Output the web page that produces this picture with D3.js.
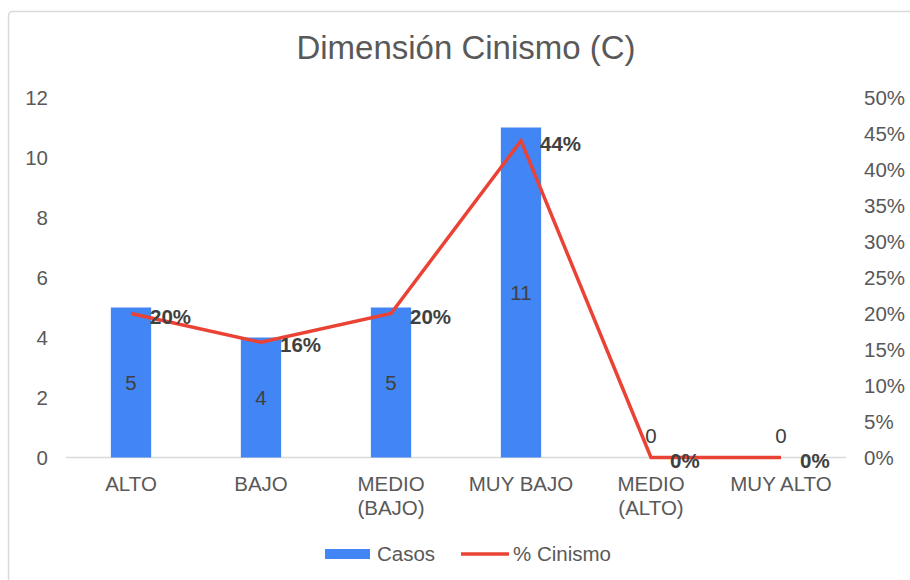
<!DOCTYPE html>
<html>
<head>
<meta charset="utf-8">
<script src="https://cdn.jsdelivr.net/npm/d3@7"></script>
<style>
  body { margin: 0; background: #fff; }
  svg { display: block; font-family: "Liberation Sans", Arial, sans-serif; }
</style>
</head>
<body>
<svg id="chart" width="910" height="580"></svg>
<script>
// chart data
const categories = [["ALTO"], ["BAJO"], ["MEDIO", "(BAJO)"], ["MUY BAJO"], ["MEDIO", "(ALTO)"], ["MUY ALTO"]];
const casos      = [5, 4, 5, 11, 0, 0];
const pctCinismo = [0.20, 0.16, 0.20, 0.44, 0, 0];
const leftTicks  = [0, 2, 4, 6, 8, 10, 12];
const rightTicks = [0, 0.05, 0.10, 0.15, 0.20, 0.25, 0.30, 0.35, 0.40, 0.45, 0.50];

const svg = d3.select("#chart");
const textColor = "#595959";
const labelColor = "#404040";
const blue = "#4285F4";
const red  = "#EA4335";
const fs = 20.5;

// outer frame
svg.append("rect")
  .attr("x", 8.5).attr("y", 11.5)
  .attr("width", 920).attr("height", 600)
  .attr("rx", 4)
  .attr("fill", "none")
  .attr("stroke", "#d9d9d9")
  .attr("stroke-width", 1.5);

// title
svg.append("text")
  .attr("x", 466).attr("y", 59)
  .attr("text-anchor", "middle")
  .attr("font-size", 33)
  .attr("fill", textColor)
  .text("Dimensión Cinismo (C)");

const x = d3.scaleBand()
  .domain(d3.range(categories.length))
  .range([66, 846])
  .paddingInner(0.69)
  .paddingOuter(0.345);

const yLeft = d3.scaleLinear().domain([0, 12]).range([457.5, 97.5]);
const yRight = d3.scaleLinear().domain([0, 0.5]).range([457.5, 97.5]);
const cx = i => x(i) + x.bandwidth() / 2;

// left axis
const leftAxis = svg.append("g")
  .attr("transform", "translate(48,0)")
  .call(d3.axisLeft(yLeft).tickValues(leftTicks).tickSize(0).tickPadding(0));
leftAxis.select(".domain").remove();
leftAxis.selectAll("text").attr("font-size", fs).attr("fill", textColor).attr("font-family", null);

// right axis
const rightAxis = svg.append("g")
  .attr("transform", "translate(864,0)")
  .call(d3.axisRight(yRight).tickValues(rightTicks).tickSize(0).tickPadding(0)
    .tickFormat(d3.format(".0%")));
rightAxis.select(".domain").remove();
rightAxis.selectAll("text").attr("font-size", fs).attr("fill", textColor).attr("font-family", null);

// baseline
svg.append("line")
  .attr("x1", 66).attr("x2", 846)
  .attr("y1", yLeft(0)).attr("y2", yLeft(0))
  .attr("stroke", "#d9d9d9")
  .attr("stroke-width", 1.5);

// bars
svg.append("g").selectAll("rect")
  .data(casos)
  .join("rect")
  .attr("x", (d, i) => x(i))
  .attr("width", x.bandwidth())
  .attr("y", d => yLeft(d))
  .attr("height", d => yLeft(0) - yLeft(d))
  .attr("fill", blue);

// bar labels
svg.append("g").selectAll("text")
  .data(casos)
  .join("text")
  .attr("x", (d, i) => cx(i))
  .attr("y", d => d > 0 ? (yLeft(d) + yLeft(0)) / 2 : yLeft(0) - 22)
  .attr("dy", "0.35em")
  .attr("text-anchor", "middle")
  .attr("font-size", fs)
  .attr("fill", labelColor)
  .text(d => d);

// x labels
const xl = svg.append("g").selectAll("text")
  .data(categories)
  .join("text")
  .attr("x", (d, i) => cx(i))
  .attr("y", 491)
  .attr("text-anchor", "middle")
  .attr("font-size", fs)
  .attr("fill", textColor);
xl.selectAll("tspan")
  .data(d => d)
  .join("tspan")
  .attr("x", function () { return this.parentNode.getAttribute("x"); })
  .attr("dy", (d, i) => i === 0 ? 0 : 24)
  .text(d => d);

// line
const line = d3.line()
  .x((d, i) => cx(i))
  .y(d => yRight(d));
svg.append("path")
  .datum(pctCinismo)
  .attr("d", line)
  .attr("fill", "none")
  .attr("stroke", red)
  .attr("stroke-width", 3.5)
  .attr("stroke-linejoin", "miter");

// line labels
svg.append("g").selectAll("text")
  .data(pctCinismo)
  .join("text")
  .attr("x", (d, i) => cx(i) + 19)
  .attr("y", d => yRight(d) + 3)
  .attr("dy", "0.35em")
  .attr("font-size", fs)
  .attr("font-weight", "bold")
  .attr("fill", labelColor)
  .text(d => d3.format(".0%")(d));

// legend
const legend = svg.append("g");
legend.append("rect")
  .attr("x", 325).attr("y", 549)
  .attr("width", 45).attr("height", 10)
  .attr("fill", blue);
legend.append("text")
  .attr("x", 377).attr("y", 554).attr("dy", "0.35em")
  .attr("font-size", fs).attr("fill", textColor)
  .text("Casos");
legend.append("line")
  .attr("x1", 461).attr("x2", 509)
  .attr("y1", 554).attr("y2", 554)
  .attr("stroke", red).attr("stroke-width", 3.5);
legend.append("text")
  .attr("x", 513).attr("y", 554).attr("dy", "0.35em")
  .attr("font-size", fs).attr("fill", textColor)
  .text("% Cinismo");
</script>
</body>
</html>
